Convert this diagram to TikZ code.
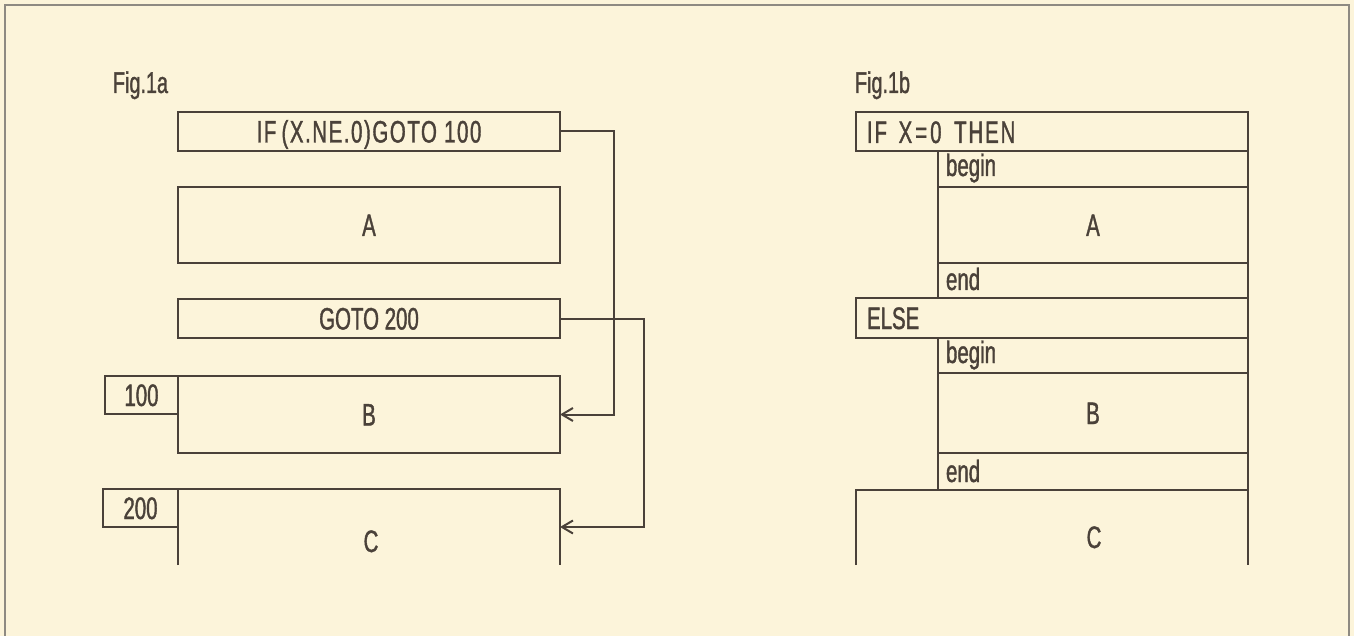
\documentclass[tikz,border=0pt]{standalone}
\usepackage{fontspec}
\setmainfont{Liberation Sans}[FakeStretch=0.66,FakeBold=1.2]
\usetikzlibrary{arrows.meta}
\definecolor{paper}{HTML}{FCF4DA}
\definecolor{ink}{HTML}{4A4139}
\definecolor{framec}{HTML}{8E8A82}
\begin{document}
\begin{tikzpicture}[x=1pt,y=-1pt,
  every node/.style={inner sep=0pt, outer sep=0pt, text=ink, font=\fontsize{31}{35}\selectfont},
  box/.style={draw=ink, line width=2pt, rectangle, text height=22pt, text depth=0pt},
  lbl/.style={anchor=base west},
  edge/.style={draw=ink, line width=2pt},
  conn/.style={draw=ink, line width=2pt, -{Straight Barb[length=11pt,width=13pt,line width=2pt]}},
  figlbl/.style={anchor=base west, font=\fontsize{30}{34}\selectfont}]
\fill[paper] (0,0) rectangle (1354,636);
\useasboundingbox (0,0) rectangle (1354,636);
% outer frame
\draw[framec, line width=2.5pt] (5,636) -- (5,5) -- (1349,5) -- (1349,636);

% ---------- Fig. 1a ----------
\node[figlbl] (fa) at (113,93) {Fig.1a};
\node[box, minimum width=382, minimum height=39] (if1) at (369,131.5) {\addfontfeature{LetterSpace=5}IF\,(X.NE.0)GOTO 100};
\node[box, minimum width=382, minimum height=76] (a1) at (369,225) {A};
\node[box, minimum width=382, minimum height=39] (go1) at (369,318.5) {GOTO 200};
\node[box, minimum width=382, minimum height=77] (b1) at (369,414.5) {B};
\node[box, minimum width=73, minimum height=38] (l100) at (141.5,395) {100};
\coordinate (c1sw) at (178,565);
\coordinate (c1nw) at (178,489);
\coordinate (c1ne) at (560,489);
\coordinate (c1se) at (560,565);
\draw[edge] (c1sw) -- (c1nw) -- (c1ne) -- (c1se);
\node[box, minimum width=75, minimum height=38] (l200) at (140.5,508) {200};
\node[text height=22pt, text depth=0pt] (c1) at (371,541) {C};
\coordinate (c1in) at (560,527);
\draw[conn] (if1.east) -- ++(54,0) |- (b1.east);
\draw[conn] (go1.east) -- ++(84,0) |- (c1in);

% ---------- Fig. 1b ----------
\node[figlbl] (fb) at (855,93) {Fig.1b};
\node[box, minimum width=392, minimum height=39] (if2) at (1052,131.5) {};
\node[lbl] (if2t) at (867,143) {\addfontfeature{LetterSpace=6}IF\hspace{4pt} X\hspace{3pt}=\hspace{3pt}0\hspace{5pt} THEN};
\node[box, minimum width=310, minimum height=36] (bg1) at (1093,169) {};
\node[lbl] (bg1t) at (946,176) {begin};
\node[box, minimum width=310, minimum height=76] (a2) at (1093,225) {A};
\node[box, minimum width=310, minimum height=35] (en1) at (1093,280.5) {};
\node[lbl] (en1t) at (946,290) {end};
\node[box, minimum width=392, minimum height=40] (el) at (1052,318) {};
\node[lbl] (elt) at (867,329) {ELSE};
\node[box, minimum width=310, minimum height=35] (bg2) at (1093,355.5) {};
\node[lbl] (bg2t) at (946,363) {begin};
\node[box, minimum width=310, minimum height=80] (b2) at (1093,413) {B};
\node[box, minimum width=310, minimum height=37] (en2) at (1093,471.5) {};
\node[lbl] (en2t) at (946,482) {end};
\coordinate (c2sw) at (856,565);
\coordinate (c2nw) at (856,490);
\coordinate (c2ne) at (1248,490);
\coordinate (c2se) at (1248,565);
\draw[edge] (c2sw) -- (c2nw) -- (c2ne) -- (c2se);
\node[text height=22pt, text depth=0pt] (c2) at (1094,537) {C};
\end{tikzpicture}
\end{document}
